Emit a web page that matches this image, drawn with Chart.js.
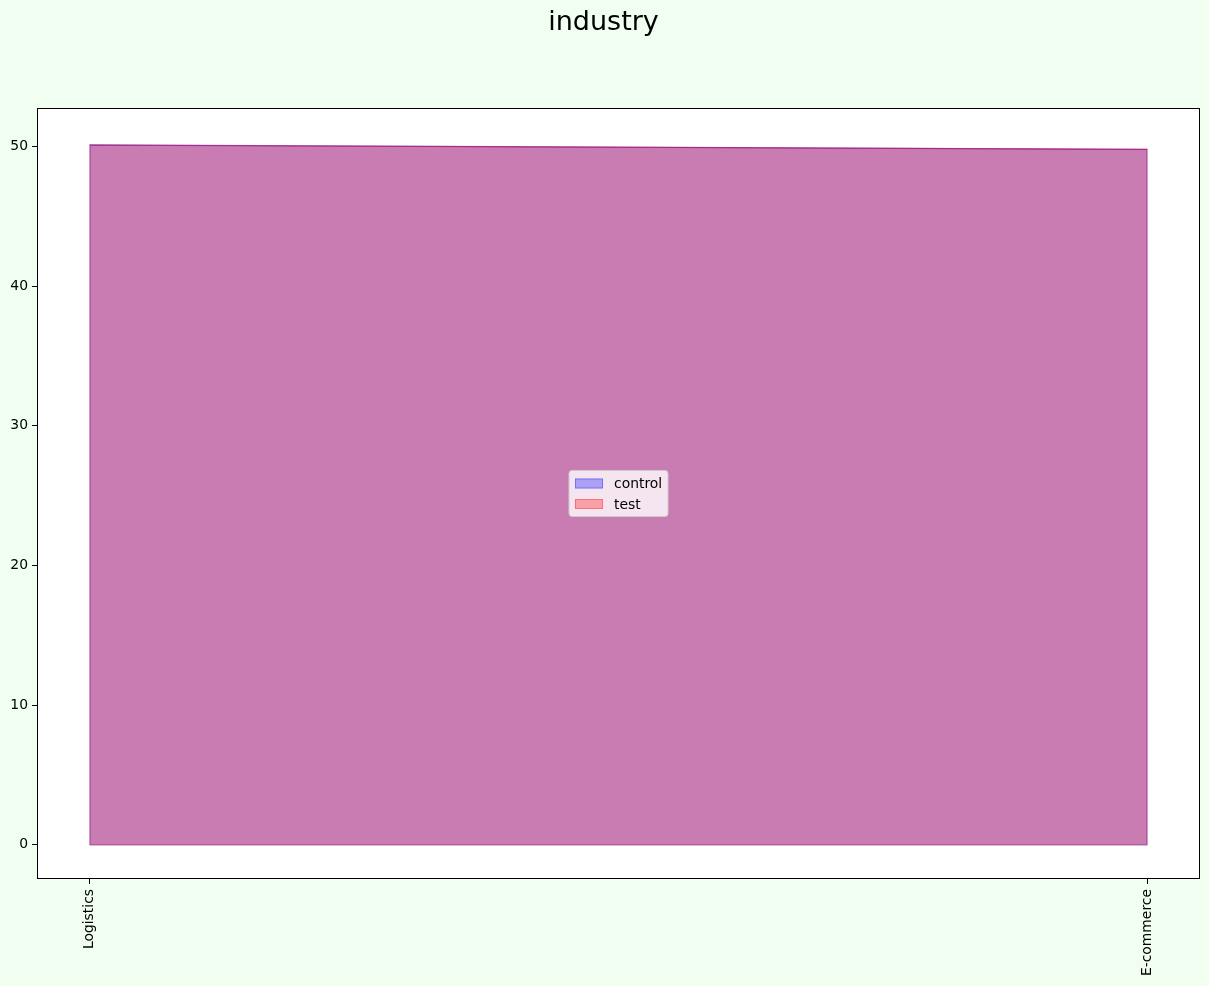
<!DOCTYPE html>
<html>
<head>
<meta charset="utf-8">
<script src="https://cdn.jsdelivr.net/npm/chart.js@4.4.0/dist/chart.umd.min.js"></script>
<style>
html,body{margin:0;padding:0;background:#f0fff0;}
canvas{display:block;background:#f0fff0;}
</style>
</head>
<body>
<canvas id="c" width="1209" height="986"></canvas>
<script>
const titleText = "industry";
const categories = ["Logistics", "E-commerce"];
const controlValues = [50.12, 49.8];
const testValues = [50.1, 49.8];
const yTicks = [0, 10, 20, 30, 40, 50];
const seriesNames = ["control", "test"];

const FONT = "'DejaVu Sans', sans-serif";
Chart.defaults.font.family = FONT;
Chart.defaults.font.size = 13.9;
Chart.defaults.color = "#000";

const blueFill = "rgba(0,0,255,0.3)";
const redFill = "rgba(255,0,0,0.3)";

const bgPlugin = {
  id: "bg",
  beforeDraw(chart) {
    const {ctx, chartArea: a} = chart;
    ctx.save();
    ctx.fillStyle = "#f0fff0";
    ctx.fillRect(0, 0, chart.width, chart.height);
    ctx.fillStyle = "#ffffff";
    ctx.fillRect(a.left, a.top, a.right - a.left, a.bottom - a.top);
    ctx.restore();
  },
  afterDatasetsDraw(chart) {
    const {ctx} = chart;
    const ys = chart.scales.y;
    const y0 = ys.getPixelForValue(0);
    [0, 1].forEach(i => {
      const meta = chart.getDatasetMeta(i);
      const pts = meta.data;
      ctx.save();
      ctx.strokeStyle = chart.data.datasets[i].borderColor;
      ctx.lineWidth = 1.2;
      ctx.beginPath();
      ctx.moveTo(pts[0].x, y0);
      pts.forEach(p => ctx.lineTo(p.x, p.y));
      ctx.lineTo(pts[pts.length - 1].x, y0);
      ctx.closePath();
      ctx.stroke();
      ctx.restore();
    });
  },
  afterDraw(chart) {
    const {ctx, chartArea: a} = chart;
    ctx.save();
    ctx.strokeStyle = "#000";
    ctx.lineWidth = 1;
    ctx.strokeRect(a.left + 0.5, a.top + 0.5, a.right - a.left - 1, a.bottom - a.top - 1);
    ctx.fillStyle = "#000";
    ctx.font = "27px " + FONT;
    ctx.textAlign = "center";
    ctx.textBaseline = "middle";
    ctx.fillText(titleText, chart.width / 2 - 1, 23);
    const cx = (a.left + a.right) / 2, cy = (a.top + a.bottom) / 2;
    const w = 99, h = 46;
    const lx = cx - w / 2, ly = cy - h / 2;
    ctx.beginPath();
    ctx.roundRect(lx, ly, w, h, 3);
    ctx.fillStyle = "rgba(255,255,255,0.8)";
    ctx.fill();
    ctx.strokeStyle = "#cccccc";
    ctx.stroke();
    ctx.font = "13.9px " + FONT;
    ctx.textAlign = "left";
    chart.data.datasets.forEach((ds, i) => {
      const ry = ly + 8 + i * 20.5;
      ctx.fillStyle = ds.backgroundColor;
      ctx.fillRect(lx + 6, ry, 28, 10);
      ctx.strokeStyle = ds.borderColor;
      ctx.strokeRect(lx + 6.5, ry + 0.5, 27, 9);
      ctx.fillStyle = "#000";
      ctx.fillText(ds.label, lx + 45, ry + 6);
    });
    ctx.restore();
  }
};

const chart = new Chart(document.getElementById("c"), {
  type: "line",
  data: {
    datasets: [
      {
        label: seriesNames[0],
        data: controlValues.map((v, i) => ({x: i, y: v})),
        backgroundColor: blueFill,
        borderColor: blueFill,
        borderWidth: 1,
        fill: "origin",
        pointRadius: 0,
        tension: 0,
        order: 1
      },
      {
        label: seriesNames[1],
        data: testValues.map((v, i) => ({x: i, y: v})),
        backgroundColor: redFill,
        borderColor: redFill,
        borderWidth: 1,
        fill: "origin",
        pointRadius: 0,
        tension: 0,
        order: 0
      }
    ]
  },
  plugins: [bgPlugin],
  options: {
    responsive: false,
    animation: false,
    devicePixelRatio: 1,
    layout: {padding: {top: 108, right: 9, left: 0, bottom: 0}},
    plugins: {legend: {display: false}, tooltip: {enabled: false}, title: {display: false}},
    scales: {
      x: {
        type: "linear",
        min: -0.05,
        max: 1.05,
        afterBuildTicks(s) { s.ticks = categories.map((c, i) => ({value: i})); },
        afterFit(s) { s.height = 107; },
        ticks: {
          callback: (v) => categories[v] ?? "",
          minRotation: 90,
          maxRotation: 90,
          padding: 5,
          autoSkip: false
        },
        grid: {display: true, drawOnChartArea: false, drawTicks: true, tickLength: 5, color: "#000"},
        border: {display: false}
      },
      y: {
        min: -2.45,
        max: 52.76,
        afterBuildTicks(s) { s.ticks = yTicks.map(v => ({value: v})); },
        afterFit(s) { s.width = 37; },
        ticks: {padding: 4, callback: (v) => String(v)},
        grid: {display: true, drawOnChartArea: false, drawTicks: true, tickLength: 5, color: "#000"},
        border: {display: false}
      }
    }
  }
});
</script>
</body>
</html>
